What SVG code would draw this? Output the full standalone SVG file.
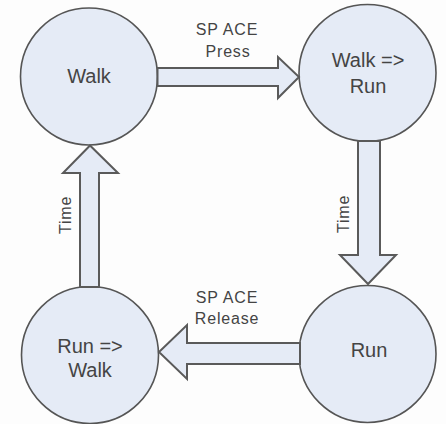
<svg xmlns="http://www.w3.org/2000/svg" width="446" height="424" viewBox="0 0 446 424">
<style>
.node{fill:#e5ebf6;stroke:#555;stroke-width:1.6}
.arrow{fill:#e5ebf6;stroke:#5a5a5a;stroke-width:2;stroke-linejoin:miter}
.t{font-family:"Liberation Sans",Arial,sans-serif;fill:#444;text-anchor:middle}
.n{font-size:20px}
.l{font-size:16px;letter-spacing:0.8px}
</style>
<rect width="446" height="424" fill="#fdfdfd"/>
<g id="walk"><circle class="node" cx="89" cy="76.5" r="68.5"/><text class="t n" x="89" y="83">Walk</text></g>
<g id="walk-run"><circle class="node" cx="367.5" cy="73" r="68.5"/><text class="t n" x="368" y="67">Walk =&gt;</text><text class="t n" x="368" y="93">Run</text></g>
<g id="run"><circle class="node" cx="367.5" cy="354" r="68.5"/><text class="t n" x="369" y="357">Run</text></g>
<g id="run-walk"><circle class="node" cx="90" cy="355" r="68.5"/><text class="t n" x="90" y="353">Run =&gt;</text><text class="t n" x="90" y="377">Walk</text></g>
<g id="connectors">
<polygon class="arrow" points="157.5,68 278,68 278,57 299,77 278,98 278,86 157.5,86"/>
<polygon class="arrow" points="358,141 380,141 380,255 396,255 368,284 340,255 358,255"/>
<polygon class="arrow" points="300,343 187,343 187,325 159,352 187,379 187,364 300,364"/>
<polygon class="arrow" points="80,287 80,173 63,173 90,145.5 118,173 99,173 99,287"/>
<text class="t l" x="227" y="35">SP ACE</text>
<text class="t l" x="228" y="57">Press</text>
<text class="t l" x="227" y="303">SP ACE</text>
<text class="t l" x="227" y="324">Release</text>
<text class="t l" transform="translate(71,215) rotate(-90)">Time</text>
<text class="t l" transform="translate(349,214) rotate(-90)">Time</text>
</g>
</svg>
